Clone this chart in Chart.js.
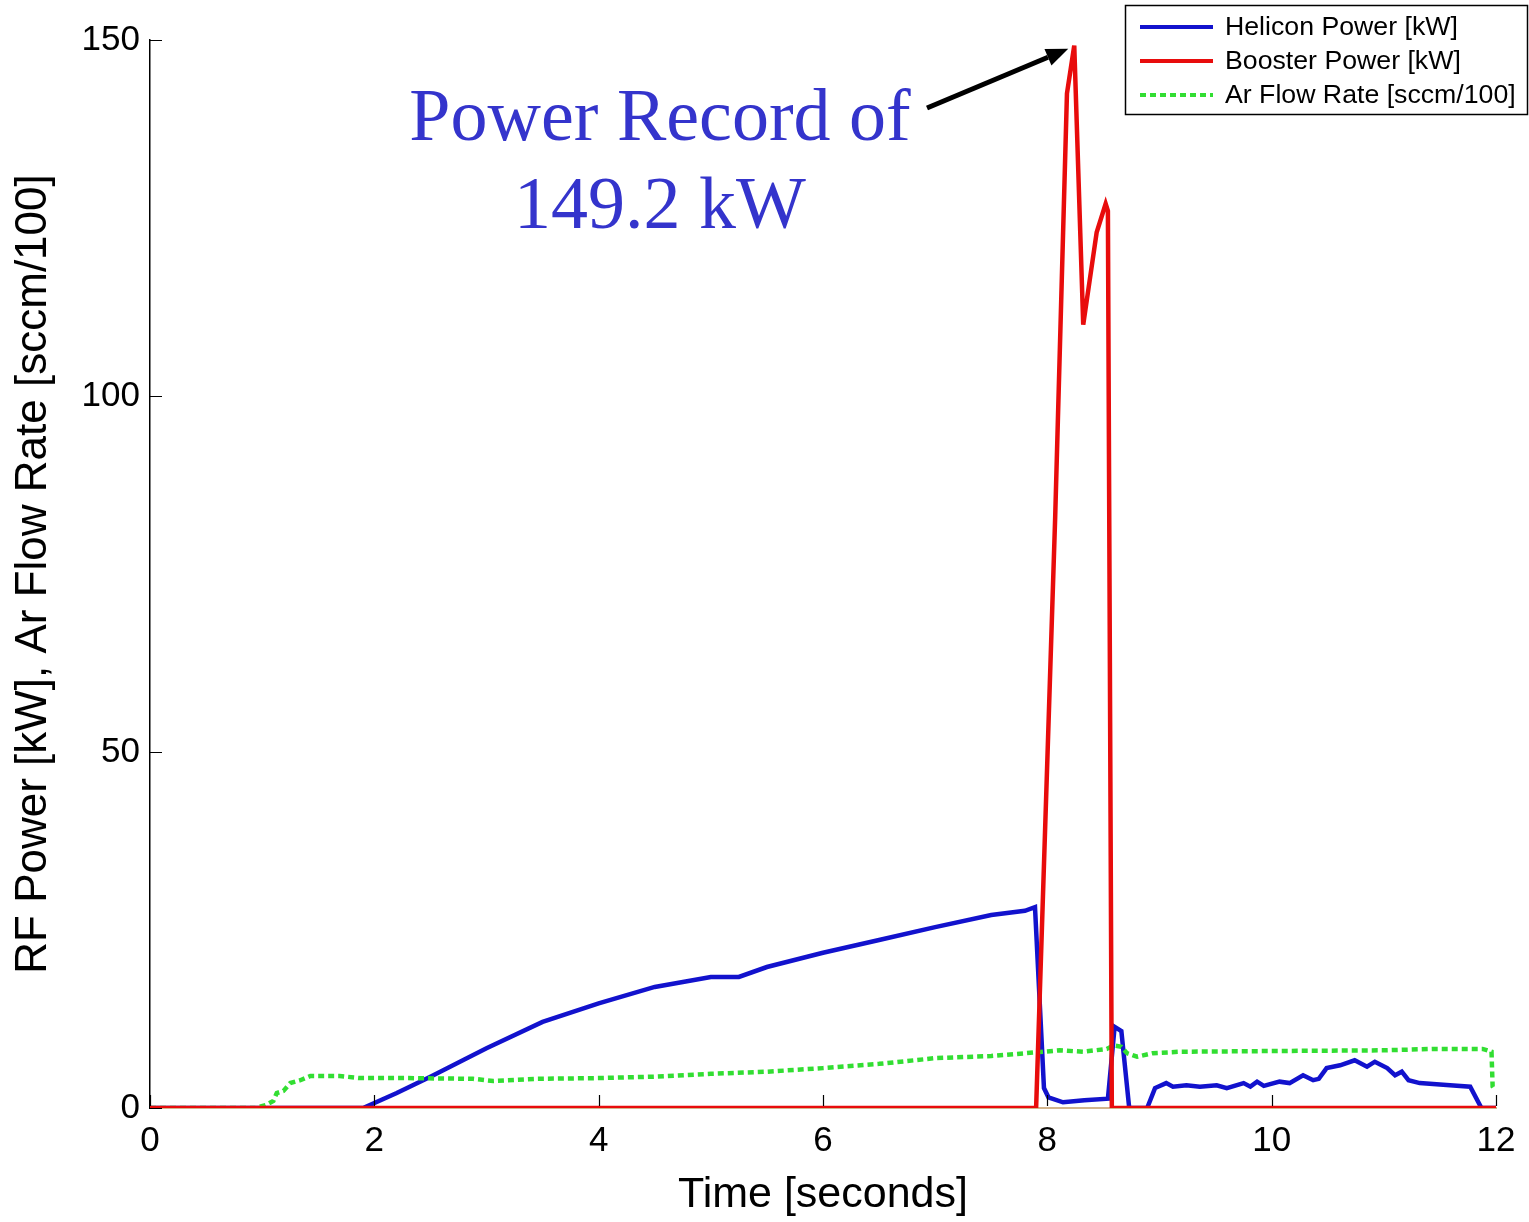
<!DOCTYPE html>
<html>
<head>
<meta charset="utf-8">
<script src="https://cdn.jsdelivr.net/npm/chart.js@4"></script>
<style>
  html, body { margin: 0; padding: 0; background: #fff; }
  #wrap { width: 1529px; height: 1222px; position: relative; }
</style>
</head>
<body>
<div id="wrap"><canvas id="chart"></canvas></div>
<script>
// RF power and argon flow over one shot.
const helicon_t  = [0, 1.90, 2.2, 2.5, 3.0, 3.5, 4.0, 4.5, 5.0, 5.25, 5.5, 6.0, 6.5, 7.0, 7.5, 7.8, 7.89,
  7.97, 8.01, 8.14, 8.33, 8.54, 8.60, 8.66, 8.73, 8.89, 8.96, 9.06, 9.12, 9.24, 9.36, 9.51, 9.60, 9.75,
  9.81, 9.87, 9.93, 10.07, 10.16, 10.28, 10.37, 10.42, 10.49, 10.61, 10.74, 10.85, 10.92, 11.03, 11.10,
  11.16, 11.22, 11.32, 11.59, 11.77, 11.87, 12];
const helicon_kw = [0, 0, 2.1, 4.4, 8.4, 12.1, 14.7, 17.0, 18.4, 18.4, 19.8, 21.8, 23.6, 25.4, 27.1, 27.7, 28.2,
  2.8, 1.5, 0.8, 1.1, 1.3, 11.4, 10.8, 0, 0, 2.8, 3.5, 3.0, 3.2, 3.0, 3.2, 2.8, 3.5,
  3.0, 3.7, 3.1, 3.7, 3.5, 4.6, 3.9, 4.1, 5.6, 6.0, 6.7, 5.8, 6.5, 5.6, 4.6,
  5.1, 3.9, 3.5, 3.2, 3.0, 0, 0];

const booster_t  = [0, 7.90, 8.07, 8.175, 8.24, 8.32, 8.44, 8.52, 8.54, 8.575, 12];
const booster_kw = [0, 0, 83, 142.5, 149.2, 110, 123, 127, 126, 0, 0];

const argon_t    = [0, 0.94, 1.03, 1.10, 1.13, 1.19, 1.25, 1.34, 1.43, 1.69, 1.87, 2.30, 2.88, 3.06, 3.45,
  4.0, 4.5, 5.0, 5.5, 6.0, 6.5, 7.0, 7.5, 7.96, 8.11, 8.32, 8.53, 8.59, 8.66, 8.71, 8.80, 8.94, 9.18,
  10.0, 11.0, 11.44, 11.88, 11.96, 11.97, 11.99];
const argon_flow = [0, 0, 0.4, 1.0, 2.1, 2.4, 3.5, 3.9, 4.5, 4.5, 4.2, 4.2, 4.1, 3.8, 4.1,
  4.2, 4.4, 4.8, 5.1, 5.6, 6.2, 7.0, 7.3, 7.9, 8.1, 7.9, 8.3, 8.8, 8.6, 7.7, 7.2, 7.7, 7.9,
  8.0, 8.1, 8.3, 8.3, 7.9, 3.0, 2.5];

const seriesLabels = ['Helicon Power [kW]', 'Booster Power [kW]', 'Ar Flow Rate [sccm/100]'];
const xTicks = [0, 2, 4, 6, 8, 10, 12];
const yTicks = [0, 50, 100, 150];

const SANS = "'Liberation Sans', Arial, sans-serif";
const SERIF = "'Liberation Serif', 'Times New Roman', serif";

function xy(ts, vs) { return ts.map((t, i) => ({ x: t, y: vs[i] })); }

const peakKw = Math.max(...booster_kw);
const peakT = booster_t[booster_kw.indexOf(peakKw)];

// inward tick marks on both axes (matlab style)
const innerTicks = {
  id: 'innerTicks',
  afterDraw(chart) {
    const { ctx, chartArea: a, scales: { x, y } } = chart;
    ctx.save();
    ctx.strokeStyle = '#000';
    ctx.lineWidth = 1.2;
    ctx.beginPath();
    xTicks.forEach((v) => {
      const px = Math.round(x.getPixelForValue(v)) + 0.5;
      ctx.moveTo(px, a.bottom - 2); ctx.lineTo(px, a.bottom - 13);
    });
    yTicks.forEach((v) => {
      const py = Math.round(y.getPixelForValue(v)) + 0.5;
      ctx.moveTo(a.left, py); ctx.lineTo(a.left + 12, py);
    });
    ctx.stroke();
    ctx.restore();
  },
};

// boxed legend in the top-right corner
const boxLegend = {
  id: 'boxLegend',
  afterDraw(chart) {
    const ctx = chart.ctx;
    const bx = 1125, by = 5, bw = 402, bh = 109;
    ctx.save();
    ctx.fillStyle = '#fff';
    ctx.fillRect(bx, by, bw, bh);
    ctx.strokeStyle = '#000';
    ctx.lineWidth = 1.5;
    ctx.strokeRect(bx + 0.5, by + 0.5, bw, bh);
    ctx.font = `26.7px ${SANS}`;
    ctx.textBaseline = 'middle';
    chart.data.datasets.forEach((ds, i) => {
      const ry = by + 22 + i * 34;
      ctx.strokeStyle = ds.borderColor;
      ctx.lineWidth = 4;
      ctx.setLineDash(ds.borderDash || []);
      ctx.beginPath();
      ctx.moveTo(bx + 15, ry); ctx.lineTo(bx + 88, ry);
      ctx.stroke();
      ctx.setLineDash([]);
      ctx.fillStyle = '#000';
      ctx.fillText(ds.label, bx + 100, ry + 1);
    });
    ctx.restore();
  },
};

// callout text + arrow pointing at the booster peak
const peakCallout = {
  id: 'peakCallout',
  afterDraw(chart) {
    const { ctx, scales: { x, y } } = chart;
    const tipX = x.getPixelForValue(peakT) - 6;
    const tipY = y.getPixelForValue(peakKw) + 3;
    const tailX = 927, tailY = 108;
    ctx.save();
    ctx.fillStyle = 'rgb(52,52,204)';
    ctx.font = `74px ${SERIF}`;
    ctx.textAlign = 'center';
    ctx.textBaseline = 'alphabetic';
    ctx.fillText('Power Record of', 660, 140);
    ctx.fillText(`${peakKw} kW`, 660, 228);

    const ang = Math.atan2(tipY - tailY, tipX - tailX);
    const headLen = 22, headW = 9;
    const baseX = tipX - headLen * Math.cos(ang), baseY = tipY - headLen * Math.sin(ang);
    ctx.strokeStyle = '#000';
    ctx.lineWidth = 5;
    ctx.beginPath();
    ctx.moveTo(tailX, tailY); ctx.lineTo(baseX, baseY);
    ctx.stroke();
    ctx.fillStyle = '#000';
    ctx.beginPath();
    ctx.moveTo(tipX, tipY);
    ctx.lineTo(baseX + headW * Math.sin(ang), baseY - headW * Math.cos(ang));
    ctx.lineTo(baseX - headW * Math.sin(ang), baseY + headW * Math.cos(ang));
    ctx.closePath();
    ctx.fill();
    ctx.restore();
  },
};

new Chart(document.getElementById('chart'), {
  type: 'line',
  data: {
    datasets: [
      { label: seriesLabels[0], data: xy(helicon_t, helicon_kw), borderColor: 'rgb(18,18,205)',
        borderWidth: 4.5, pointRadius: 0, tension: 0, order: 2 },
      { label: seriesLabels[1], data: xy(booster_t, booster_kw), borderColor: 'rgb(232,12,12)',
        borderWidth: 4.5, pointRadius: 0, tension: 0, order: 0 },
      { label: seriesLabels[2], data: xy(argon_t, argon_flow), borderColor: 'rgb(50,222,50)',
        borderWidth: 4.5, borderDash: [6, 4], pointRadius: 0, tension: 0, order: 1 },
    ],
  },
  options: {
    responsive: true, maintainAspectRatio: false, animation: false,
    layout: { padding: { top: 40, right: 33, left: 0, bottom: 0 } },
    scales: {
      x: {
        type: 'linear', min: 0, max: 12,
        afterBuildTicks(scale) { scale.ticks = xTicks.map((v) => ({ value: v })); },
        afterFit(scale) { scale.height = 114; },
        grid: { display: false, drawTicks: false },
        border: { display: true, color: '#d2b48c', width: 2 },
        ticks: { color: '#000', font: { family: SANS, size: 35 }, padding: 12, maxRotation: 0 },
        title: { display: true, text: 'Time [seconds]', color: '#000',
                 font: { family: SANS, size: 43 }, padding: { top: 0, bottom: 1 } },
      },
      y: {
        min: 0, max: 150,
        afterBuildTicks(scale) { scale.ticks = yTicks.map((v) => ({ value: v })); },
        afterFit(scale) { scale.width = 150; },
        grid: { display: false, drawTicks: false },
        border: { display: true, color: '#000', width: 1.5 },
        ticks: { color: '#000', font: { family: SANS, size: 35 }, padding: 10 },
        title: { display: true, text: 'RF Power [kW], Ar Flow Rate [sccm/100]', color: '#000',
                 font: { family: SANS, size: 44 }, padding: { top: 7, bottom: 0 } },
      },
    },
    plugins: { legend: { display: false }, tooltip: { enabled: false } },
  },
  plugins: [innerTicks, boxLegend, peakCallout],
});
</script>
</body>
</html>
